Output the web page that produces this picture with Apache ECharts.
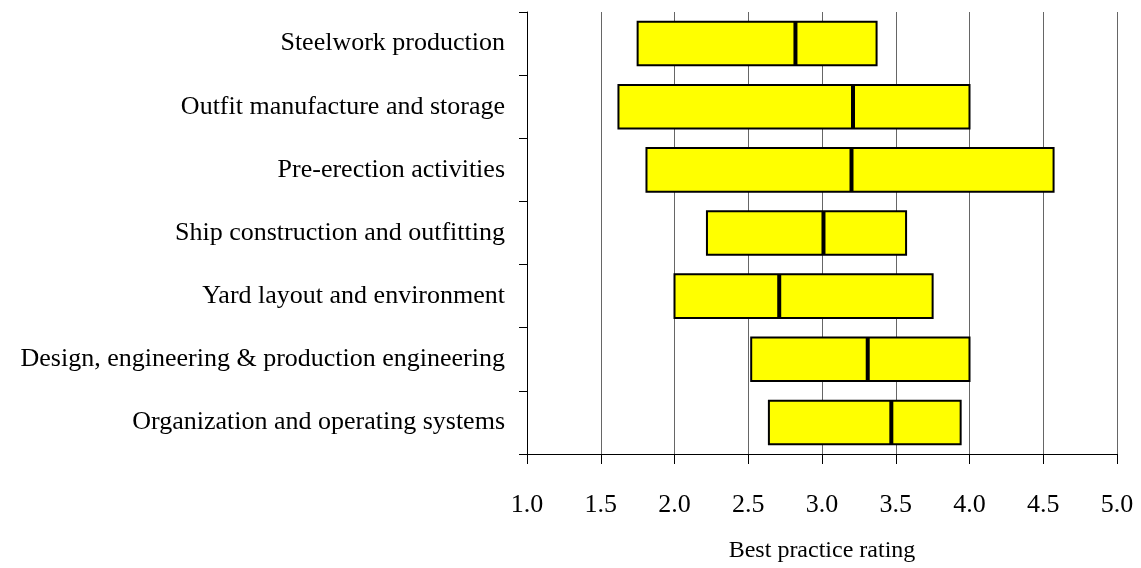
<!DOCTYPE html>
<html>
<head>
<meta charset="utf-8">
<script src="https://cdn.jsdelivr.net/npm/echarts@6/dist/echarts.min.js"></script>
<style>
html, body { margin: 0; padding: 0; background: #fff; }
#chart { width: 1141px; height: 568px; }
</style>
</head>
<body>
<div id="chart"></div>
<script>
var categories = [
    'Steelwork production',
    'Outfit manufacture and storage',
    'Pre-erection activities',
    'Ship construction and outfitting',
    'Yard layout and environment',
    'Design, engineering & production engineering',
    'Organization and operating systems'
];
var lowValues = [1.75, 1.62, 1.81, 2.22, 2.00, 2.52, 2.64];
var medianValues = [2.82, 3.21, 3.20, 3.01, 2.71, 3.31, 3.47];
var highValues = [3.37, 4.00, 4.57, 3.57, 3.75, 4.00, 3.94];

var serif = '"Liberation Serif", "Times New Roman", serif';

var rangeData = categories.map(function (c, i) {
    return [i, lowValues[i], medianValues[i], highValues[i]];
});

// yellow box from low to high, thick black stroke at the median
function renderRange(params, api) {
    var y = api.value(0);
    var start = api.coord([api.value(1), y]);
    var mid = api.coord([api.value(2), y]);
    var end = api.coord([api.value(3), y]);
    var h = api.size([0, 1])[1] * 0.69;
    return {
        type: 'group',
        children: [
            {
                type: 'rect',
                shape: { x: start[0], y: start[1] - h / 2, width: end[0] - start[0], height: h },
                style: { fill: '#ffff00', stroke: '#000', lineWidth: 2 }
            },
            {
                type: 'line',
                shape: { x1: mid[0], y1: start[1] - h / 2, x2: mid[0], y2: start[1] + h / 2 },
                style: { stroke: '#000', lineWidth: 4 }
            }
        ]
    };
}

var chart = echarts.init(document.getElementById('chart'));
var option = {
    animation: false,
    backgroundColor: '#fff',
    grid: { left: 527, right: 24, top: 12, bottom: 112 },
    xAxis: {
        type: 'value',
        min: 1,
        max: 5,
        interval: 0.5,
        name: 'Best practice rating',
        nameLocation: 'middle',
        nameGap: 85,
        nameTextStyle: { fontFamily: serif, fontSize: 24, color: '#000' },
        axisLine: { show: true, lineStyle: { color: '#000', width: 1 } },
        axisTick: { show: true, length: 10, lineStyle: { color: '#000' } },
        axisLabel: {
            margin: 38,
            fontFamily: serif,
            fontSize: 26,
            color: '#000',
            formatter: function (v) { return v.toFixed(1); }
        },
        splitLine: { show: true, lineStyle: { color: '#666', width: 1 } }
    },
    yAxis: {
        type: 'category',
        inverse: true,
        data: categories,
        axisLine: { show: true, lineStyle: { color: '#000', width: 1 } },
        axisTick: { show: true, length: 8, lineStyle: { color: '#000' } },
        axisLabel: { margin: 22, fontFamily: serif, fontSize: 26, color: '#000' },
        splitLine: { show: false }
    },
    series: [
        {
            type: 'custom',
            renderItem: renderRange,
            encode: { x: [1, 2, 3], y: 0 },
            data: rangeData
        }
    ]
};
chart.setOption(option);
</script>
</body>
</html>
